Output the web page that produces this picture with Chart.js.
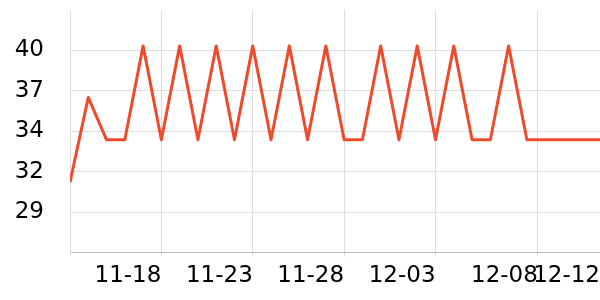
<!DOCTYPE html>
<html>
<head>
<meta charset="utf-8">
<script src="https://cdn.jsdelivr.net/npm/chart.js@4/dist/chart.umd.min.js"></script>
<style>
  html, body { margin: 0; padding: 0; background: #fff; }
  #wrap { width: 600px; height: 300px; }
</style>
</head>
<body>
<div id="wrap"><canvas id="chart"></canvas></div>
<script>
// --- Data ---
const dates = ['11-13', '11-14', '11-15', '11-16', '11-17', '11-18', '11-19', '11-20', '11-21', '11-22',
               '11-23', '11-24', '11-25', '11-26', '11-27', '11-28', '11-29', '11-30', '12-01', '12-02',
               '12-03', '12-04', '12-05', '12-06', '12-07', '12-08', '12-09', '12-10', '12-11', '12-12'];
const temps = [31.3, 36.9, 34.1, 34.1, 40.3, 34.1, 40.3, 34.1, 40.3, 34.1,
               40.3, 34.1, 40.3, 34.1, 40.3, 34.1, 34.1, 40.3, 34.1, 40.3,
               34.1, 40.3, 34.1, 34.1, 40.3, 34.1, 34.1, 34.1, 34.1, 34.1];

// x ticks (day index) and their labels
const xTickValues = [0, 5, 10, 15, 20, 25.6, 29];
const xTickLabels = ['', '11-18', '11-23', '11-28', '12-03', '12-08', '12-12'];

// y ticks and their (truncated) labels
const yTickValues = [26.67, 29.33, 32, 34.67, 37.33, 40];
const yTickLabels = ['', '29', '32', '34', '37', '40'];

const points = temps.map((t, i) => ({ x: i, y: t }));

// --- Chart ---
const ctx = document.getElementById('chart').getContext('2d');
new Chart(ctx, {
    type: 'line',
    data: {
        datasets: [{
            label: dates[0] + ' - ' + dates[dates.length - 1],
            data: points,
            borderColor: '#ee4b2d',
            borderWidth: 3,
            borderJoinStyle: 'round',
            pointRadius: 0,
            tension: 0,
            fill: false
        }]
    },
    options: {
        responsive: true,
        maintainAspectRatio: false,
        animation: false,
        layout: { padding: { left: 0, top: 10, right: 0, bottom: 4 } },
        plugins: {
            legend: { display: false },
            tooltip: { enabled: false }
        },
        scales: {
            x: {
                type: 'linear',
                min: 0,
                max: 29,
                afterBuildTicks: axis => { axis.ticks = xTickValues.map(v => ({ value: v })); },
                afterFit: axis => { axis.paddingLeft = 0; axis.paddingRight = 0; },
                grid: { color: '#dddddd', tickLength: 4 },
                border: { color: '#bbbbbb' },
                ticks: {
                    align: 'end',
                    maxRotation: 0,
                    autoSkip: false,
                    padding: 6,
                    color: '#000',
                    font: { family: 'DejaVu Sans', size: 23 },
                    callback: (v, i) => xTickLabels[i]
                }
            },
            y: {
                min: 26.67,
                max: 42.67,
                afterBuildTicks: axis => { axis.ticks = yTickValues.map(v => ({ value: v })); },
                afterFit: axis => { axis.width = 70; axis.paddingTop = 0; axis.paddingBottom = 0; },
                grid: { color: '#dddddd', drawTicks: false },
                border: { color: '#dddddd' },
                ticks: {
                    padding: 26,
                    autoSkip: false,
                    color: '#000',
                    font: { family: 'DejaVu Sans', size: 23 },
                    callback: (v, i) => yTickLabels[i]
                }
            }
        }
    }
});
</script>
</body>
</html>
